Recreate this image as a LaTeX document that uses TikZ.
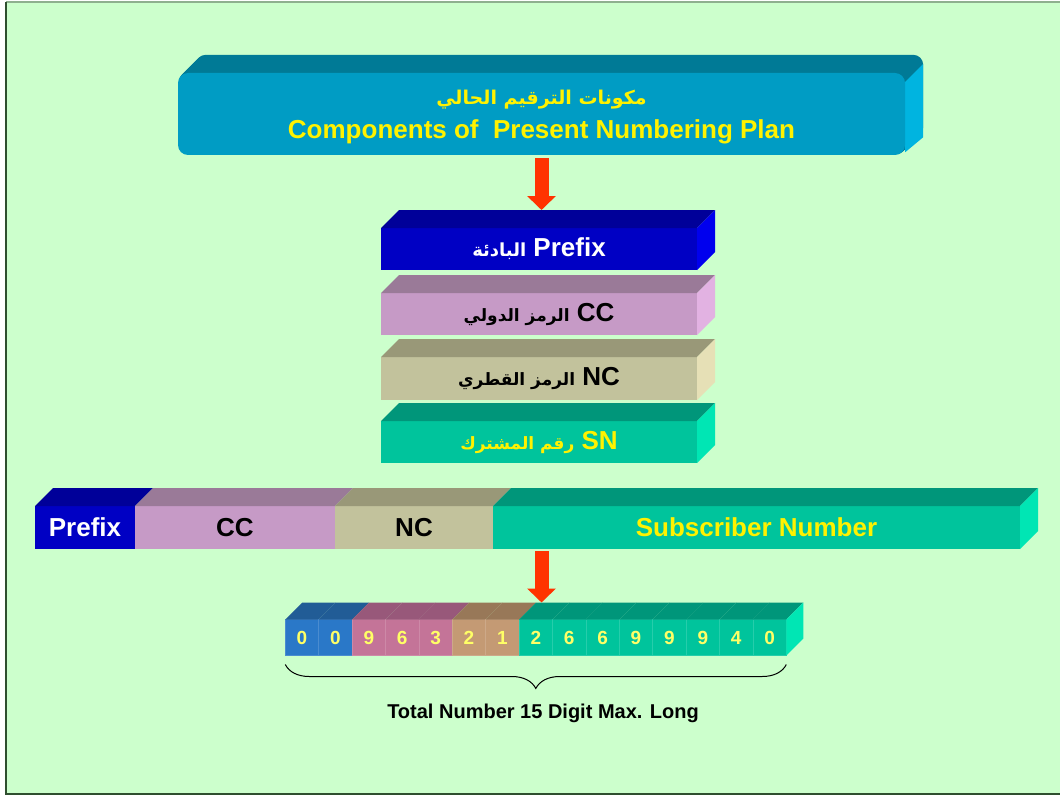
\documentclass[tikz,border=0pt]{standalone}
\usepackage{fontspec}
\setmainfont{Liberation Sans}
\newfontfamily\arabicfont[Script=Arabic]{DejaVu Sans}
\TeXXeTstate=1
\usetikzlibrary{arrows.meta, positioning, decorations.pathreplacing}

\definecolor{bgclr}{HTML}{CCFFCC}
\definecolor{frametop}{HTML}{8FB08F}
\definecolor{frameside}{HTML}{2F4F2F}
\definecolor{arrowred}{HTML}{FF3300}
\definecolor{digityellow}{HTML}{FFFF66}
% title slab
\definecolor{titlefront}{HTML}{009CC4}
\definecolor{titletop}{HTML}{007A96}
\definecolor{titleside}{HTML}{00B4E0}
% component colours: front / top / side
\definecolor{pfx}{HTML}{0000C4}
\definecolor{pfxtop}{HTML}{000099}
\definecolor{pfxside}{HTML}{0000EE}
\definecolor{cc}{HTML}{C69AC6}
\definecolor{cctop}{HTML}{9A7A98}
\definecolor{ccside}{HTML}{E2B2E2}
\definecolor{nc}{HTML}{C2C29C}
\definecolor{nctop}{HTML}{999878}
\definecolor{ncside}{HTML}{E6E0B6}
\definecolor{sn}{HTML}{00C49C}
\definecolor{sntop}{HTML}{00967A}
\definecolor{snside}{HTML}{00E6B4}
% digit cells
\definecolor{pfxd}{HTML}{2A78C8}
\definecolor{pfxdtop}{HTML}{215C96}
\definecolor{ccd}{HTML}{C47498}
\definecolor{ccdtop}{HTML}{98587A}
\definecolor{ncd}{HTML}{C49A74}
\definecolor{ncdtop}{HTML}{987858}
\definecolor{snd}{HTML}{00C49C}
\definecolor{sndtop}{HTML}{00967A}

\pgfdeclarelayer{page}
\pgfdeclarelayer{faces}
\pgfsetlayers{page,faces,main}

\tikzset{
  slab/.style={minimum width=#1, inner sep=0pt, outer sep=0pt,
    font=\bfseries\fontsize{26}{30}\selectfont},
  bigarrow/.style={-{Triangle[length=14pt,width=28pt]}, line width=14pt, draw=arrowred},
  cell/.style={minimum width=33.4pt, minimum height=36pt, inner sep=0pt, outer sep=0pt,
    line width=0.6pt, text=digityellow, font=\bfseries\fontsize{19}{21}\selectfont}
}

% top and right faces of a slab: node, colour, depth
\newcommand\slabtop[3]{%
  \fill[#2] (#1.north west) -- ++(#3,-#3) -- ([shift={(#3,-#3)}]#1.north east) -- (#1.north east) -- cycle;}
\newcommand\slabside[3]{%
  \fill[#2] (#1.north east) -- ++(#3,-#3) -- ([shift={(#3,-#3)}]#1.south east) -- (#1.south east) -- cycle;}
\newcommand\arabsize[1]{\arabicfont\fontsize{#1}{26}\selectfont}

\begin{document}
\begin{tikzpicture}[x=1pt, y=-1pt]
\useasboundingbox (0,0) rectangle (1060,797);

% page frame
\begin{pgfonlayer}{page}
\fill[bgclr] (6,2) rectangle (1062,795);
\draw[frametop, line width=1.5pt] (6,2) -- (1062,2);
\draw[frameside, line width=1.5pt] (6,2) -- (6,795);
\draw[frameside, line width=1.5pt] (6,794) -- (1062,794);
\end{pgfonlayer}

% title slab
\node[rounded corners=10pt, fill=titlefront, minimum width=727pt, minimum height=82pt,
  inner sep=0pt] (title) at (541.5,114) {};
\begin{pgfonlayer}{faces}
\foreach \t in {1,...,18}
  \fill[titletop, rounded corners=10pt] ([shift={(\t,-\t)}]title.south west) rectangle ([shift={(\t,-\t)}]title.north east);
\fill[titleside] ([yshift=-9pt]title.north east) -- ++(18,-18) -- ([shift={(18,-18)}]title.south east) -- ([yshift=3pt]title.south east) -- cycle;
\end{pgfonlayer}
\node[text=yellow, align=center, font=\bfseries\fontsize{26}{34}\selectfont] (titletext) at (541.5,117)
  {{\arabsize{19}\beginR مكونات الترقيم الحالي\endR}\\Components of\ \ Present Numbering Plan};

% stack of components
\node[slab=316pt, minimum height=42pt, fill=pfx, text=white] (spre) at (539,249)
  {{\arabsize{18}\beginR البادئة\endR} Prefix};
\slabtop{spre}{pfxtop}{18}
\slabside{spre}{pfxside}{18}

\node[slab=316pt, minimum height=42pt, fill=cc, text=black] (scc) at (539,314)
  {{\arabsize{17}\beginR الرمز الدولي\endR} CC};
\slabtop{scc}{cctop}{18}
\slabside{scc}{ccside}{18}

\node[slab=316pt, minimum height=43pt, fill=nc, text=black] (snc) at (539,378.5)
  {{\arabsize{17}\beginR الرمز القطري\endR} NC};
\slabtop{snc}{nctop}{18}
\slabside{snc}{ncside}{18}

\node[slab=316pt, minimum height=42pt, fill=sn, text=yellow] (ssn) at (539,442)
  {{\arabsize{17}\beginR رقم المشترك\endR} SN};
\slabtop{ssn}{sntop}{18}
\slabside{ssn}{snside}{18}

% full number bar
\node[slab=100pt, minimum height=43pt, fill=pfx, text=white] (bpre) at (85,527.5) {Prefix};
\node[slab=200pt, minimum height=43pt, fill=cc, text=black, right=0pt of bpre] (bcc) {CC};
\node[slab=158pt, minimum height=43pt, fill=nc, text=black, right=0pt of bcc] (bnc) {NC};
\node[slab=527pt, minimum height=43pt, fill=sn, text=yellow, right=0pt of bnc] (bsn) {Subscriber Number};
\slabtop{bpre}{pfxtop}{18}
\slabtop{bcc}{cctop}{18}
\slabtop{bnc}{nctop}{18}
\slabtop{bsn}{sntop}{18}
\slabside{bsn}{snside}{18}

% digit cells
\foreach \dg/\grp [count=\i from 0] in {0/pfx,0/pfx,9/cc,6/cc,3/cc,2/nc,1/nc,2/sn,6/sn,6/sn,9/sn,9/sn,9/sn,4/sn,0/sn}{
  \node[cell, fill=\grp d, draw=\grp d!85!white] (d\i) at (302+33.4*\i,637.5) {\dg};
  \slabtop{d\i}{\grp dtop}{17}
}
\slabside{d14}{snside}{17}

% arrows
\coordinate (pretop) at ([yshift=18pt]spre.north);
\draw[bigarrow] ([yshift=-3pt]title.south) -- (title.south |- pretop);
\coordinate (digtop) at ([yshift=17pt]d7.north);
\coordinate (barout) at (title.south |- bsn.south);
\draw[bigarrow] ([yshift=-2pt]barout) -- (barout |- digtop);

% brace and total
\draw[black, line width=1pt, decorate, decoration={brace, mirror, amplitude=24pt}]
  ([yshift=-9pt]d0.south west) -- ([yshift=-9pt]d14.south east);
\node[font=\bfseries\fontsize{20}{24}\selectfont] (total) at (543,713) {Total Number 15 Digit Max. Long};

\end{tikzpicture}
\end{document}
